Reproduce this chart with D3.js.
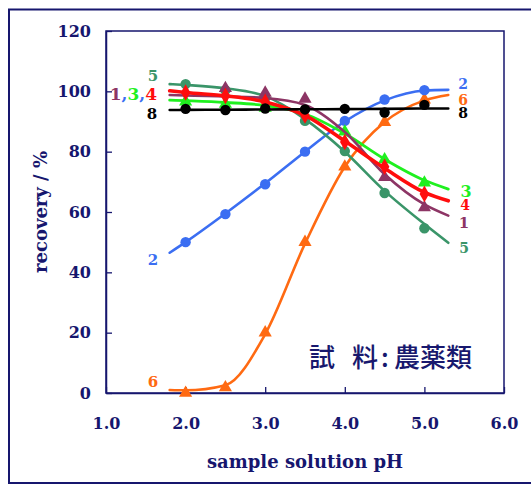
<!DOCTYPE html>
<html>
<head>
<meta charset="utf-8">
<script src="https://cdn.jsdelivr.net/npm/d3@7"></script>
<style>
  html, body { margin: 0; padding: 0; background: #fff; }
  svg { display: block; }
  text { font-family: "DejaVu Serif", serif; font-weight: bold; }
</style>
</head>
<body>
<svg id="chart" width="531" height="485"></svg>
<script>
// pH values where samples were measured
const measuredPH = [2.0, 2.5, 3.0, 3.5, 4.0, 4.5, 5.0];
// pH values used for the smooth fitted curves
const fitPH = [1.8, 2.0, 2.5, 3.0, 3.5, 4.0, 4.5, 5.0, 5.3];

// recovery (%) for each compound, measured points (null = marker hidden)
const rec1 = [null, 101, 99.5, 97.5, null, 71.5, 61.5];
const rec2 = [50, 59.3, 69.2, 80, 90.2, 97.3, 100.4];
const rec3 = [96.6, 95.8, 94.5, null, 86.6, 77.4, 69.7];
const rec4 = [99.6, 98.5, 96.5, 92, 83.2, 75, 66];
const rec5 = [102.4, 100.4, 97.8, 90.2, 80.2, 66.3, 54.6];
const rec6 = [0, 1.8, 20, 50, 75, 89.8, 97.2];
const rec8 = [94.2, 93.8, 94.3, 94, 94.2, 93, 95.5];

// fitted recovery curves (%) at fitPH
const fit1 = [98.8, 98.6, 98.3, 97.8, 95.5, 86.5, 72.5, 62.5, 58.8];
const fit2 = [46.5, 50, 59.5, 69.5, 80, 90, 97, 100.3, 100.5];
const fit3 = [97.1, 96.9, 96.3, 95.3, 92.5, 86, 77.5, 70.5, 67.6];
const fit4 = [100.2, 99.6, 98.5, 96.5, 92, 83.5, 74.5, 66.5, 63.7];
const fit5 = [102.4, 102.1, 101, 98.4, 90.8, 80, 67, 56, 49.8];
const fit6 = [1, 0.9, 2.6, 19.5, 49.5, 75, 89.8, 97, 98.8];
const fit8 = [93.8, 93.85, 93.9, 94, 94.05, 94.1, 94.2, 94.3, 94.3];

const xTicks = [1, 2, 3, 4, 5, 6];
const yTicks = [0, 20, 40, 60, 80, 100, 120];

const axisColor = "#16166e";

const series = [
  { id: "6", color: "#ff6a12", marker: "triangle", rec: rec6, fit: fit6, width: 2.6 },
  { id: "2", color: "#3b6ef2", marker: "circle",   rec: rec2, fit: fit2, width: 2.6 },
  { id: "5", color: "#3a9569", marker: "circle",   rec: rec5, fit: fit5, width: 2.6 },
  { id: "3", color: "#1ff01f", marker: "triangle", rec: rec3, fit: fit3, width: 2.8 },
  { id: "1", color: "#8d3565", marker: "triangle", rec: rec1, fit: fit1, width: 2.6 },
  { id: "4", color: "#ff0d0d", marker: "diamond",  rec: rec4, fit: fit4, width: 3.6 },
  { id: "8", color: "#000000", marker: "circle",   rec: rec8, fit: fit8, width: 2.6 }
];

const svg = d3.select("#chart");

// outer frame (runs past the right edge)
svg.append("rect")
  .attr("x", 9).attr("y", 9.5).attr("width", 540).attr("height", 473.5)
  .attr("fill", "none").attr("stroke", axisColor).attr("stroke-width", 2);

const x = d3.scaleLinear().domain([1, 6]).range([106, 504]);
const y = d3.scaleLinear().domain([0, 120]).range([393, 31]);

// plot box
svg.append("rect")
  .attr("x", x(1)).attr("y", y(120))
  .attr("width", x(6) - x(1)).attr("height", y(0) - y(120))
  .attr("fill", "none").attr("stroke", axisColor).attr("stroke-width", 1.5);

const xAxis = svg.append("g")
  .attr("transform", `translate(0,${y(0)})`)
  .call(d3.axisBottom(x).tickValues(xTicks).tickFormat(d3.format(".1f"))
    .tickSize(-6).tickSizeOuter(0).tickPadding(25));
const yAxis = svg.append("g")
  .attr("transform", `translate(${x(1)},0)`)
  .call(d3.axisLeft(y).tickValues(yTicks).tickFormat(d3.format("d"))
    .tickSize(-6).tickSizeOuter(0).tickPadding(15));

[xAxis, yAxis].forEach(g => {
  g.select(".domain").attr("stroke", axisColor).attr("stroke-width", 1.5);
  g.selectAll(".tick line").attr("stroke", axisColor).attr("stroke-width", 1.3);
  g.selectAll(".tick text")
    .attr("fill", axisColor)
    .style("font-family", "'DejaVu Serif', serif")
    .style("font-weight", "bold")
    .style("font-size", "16px");
});

// axis titles
svg.append("text")
  .attr("x", 305).attr("y", 468)
  .attr("text-anchor", "middle")
  .attr("fill", axisColor)
  .style("font-size", "18px")
  .text("sample solution pH");

svg.append("text")
  .attr("transform", `translate(47,${(y(0) + y(120)) / 2}) rotate(-90)`)
  .attr("text-anchor", "middle")
  .attr("fill", axisColor)
  .style("font-size", "18px")
  .text("recovery / %");

// fitted curves
const line = d3.line()
  .x(d => x(d[0]))
  .y(d => y(d[1]))
  .curve(d3.curveMonotoneX);

const symbolOf = {
  circle: d3.symbol().type(d3.symbolCircle).size(85),
  triangle: d3.symbol().type(d3.symbolTriangle).size(75),
  diamond: d3.symbol().type(d3.symbolDiamond).size(80)
};

series.forEach(s => {
  svg.append("path")
    .datum(fitPH.map((p, i) => [p, s.fit[i]]))
    .attr("d", line)
    .attr("fill", "none")
    .attr("stroke", s.color)
    .attr("stroke-width", s.width)
    .attr("stroke-linejoin", "round")
    .attr("stroke-linecap", "round");

  svg.append("g")
    .selectAll("path")
    .data(measuredPH.map((p, i) => [p, s.rec[i]]).filter(d => d[1] !== null))
    .join("path")
    .attr("transform", d => `translate(${x(d[0])},${y(d[1])})`)
    .attr("d", symbolOf[s.marker]())
    .attr("fill", s.color);
});

// curve labels
const colorOf = Object.fromEntries(series.map(s => [s.id, s.color]));

const rightLabels = [
  { id: "2", x: 463, y: 89, size: 14 },
  { id: "6", x: 463, y: 105, size: 14 },
  { id: "8", x: 463, y: 118, size: 14 },
  { id: "3", x: 466, y: 197, size: 16 },
  { id: "4", x: 465, y: 210, size: 14 },
  { id: "1", x: 464, y: 228, size: 15 },
  { id: "5", x: 464, y: 253, size: 14 }
];
const leftLabels = [
  { id: "5", x: 153, y: 81, size: 15 },
  { id: "8", x: 152, y: 119, size: 15 },
  { id: "2", x: 153, y: 265, size: 15 },
  { id: "6", x: 153, y: 387, size: 15 }
];

svg.append("g").selectAll("text")
  .data(rightLabels.concat(leftLabels))
  .join("text")
  .attr("x", d => d.x).attr("y", d => d.y)
  .attr("text-anchor", "middle")
  .attr("fill", d => colorOf[d.id])
  .style("font-size", d => d.size + "px")
  .text(d => d.id);

// combined label for compounds 1, 3 and 4
const combo = svg.append("text")
  .attr("x", 157).attr("y", 100)
  .attr("text-anchor", "end")
  .style("font-size", "17px");
[["1", colorOf["1"]], [",", colorOf["2"]], ["3", colorOf["3"]], [",", colorOf["2"]], ["4", colorOf["4"]]]
  .forEach(([t, c]) => combo.append("tspan").attr("fill", c).text(t));

// sample note
const note = svg.append("text")
  .attr("y", 367)
  .attr("fill", "#18186e")
  .style("font-family", "'Noto Sans CJK JP', sans-serif")
  .style("font-weight", "500")
  .style("font-size", "26px");
note.append("tspan").attr("x", 309).text("試");
note.append("tspan").attr("x", 352).text("料");
note.append("tspan").attr("x", 381).text(":");
note.append("tspan").attr("x", 394).text("農薬類");
</script>
</body>
</html>
